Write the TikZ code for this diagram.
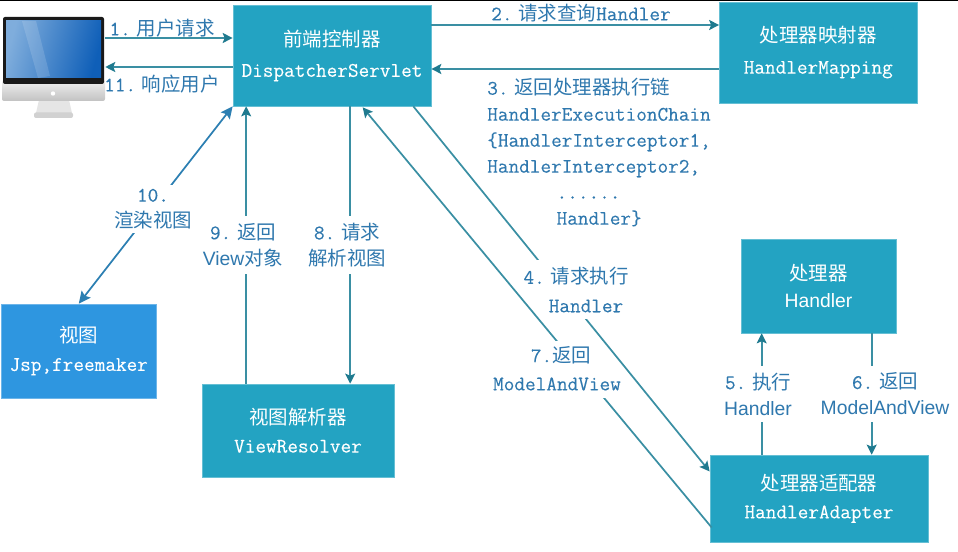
\documentclass[tikz,border=0pt]{standalone}
\usepackage{fontspec}
\setmainfont{Liberation Sans}
\setmonofont[FakeBold=0.2]{Latin Modern Mono}
\newfontfamily\cjk{Noto Sans CJK SC}
\usetikzlibrary{arrows.meta}
\usetikzlibrary{calc}
\definecolor{boxteal}{HTML}{23A3C2}
\definecolor{boxblue}{HTML}{2E96E0}
\definecolor{linkteal}{HTML}{3A8FA3}
\definecolor{tipteal}{HTML}{1F7A8F}
\definecolor{linkblue}{HTML}{2C7FB2}
\definecolor{labelblue}{HTML}{2F78AE}
\definecolor{screenl}{HTML}{7FADDC}
\definecolor{screenr}{HTML}{0F5FB8}
\newlength{\pxu}
\setlength{\pxu}{0.75pt}
\newcommand{\zh}[1]{{\fontsize{14.6}{19.5}\selectfont\cjk #1}}
\newcommand{\sn}[1]{{\fontsize{14.5}{19.5}\selectfont\rmfamily #1}}
\tikzset{
    boxt/.style={fill=boxteal, draw=boxteal!70!white, line width=0.5pt, text=white, inner sep=0pt, align=center,
        font=\fontsize{15.5}{20}\selectfont\ttfamily},
    boxv/.style={boxt, fill=boxblue, draw=boxblue!70!white},
    link/.style={draw=linkteal, line width=1.3pt, -{Stealth[length=7.5pt,width=7.5pt,inset=1.5pt,color=tipteal]}},
    linkb/.style={draw=linkblue, line width=1.3pt, {Stealth[length=9pt,width=8.5pt,inset=1.5pt]}-{Stealth[length=9pt,width=8.5pt,inset=1.5pt]}},
    lab/.style={text=labelblue, inner sep=0pt, align=center, font=\fontsize{15.5}{19.5}\selectfont\ttfamily},
    labw/.style={lab, fill=white},
}
\begin{document}
\begin{tikzpicture}[x=0.75pt, y=-0.75pt]

    \useasboundingbox (0,0) rectangle (958,552);
    \fill[black] (0,0) rectangle (958,1.2);

    % monitor
    \node[inner sep=0pt, minimum width=102\pxu, minimum height=101\pxu] (pc) at (54,67.5) {};
    \fill[black!10] (39,100) -- (69,100) -- (72,113) -- (36,113) -- cycle;
    \fill[black!18, rounded corners=1.5pt] (34,112.5) rectangle (73,118);
    \shade[top color=black!6, bottom color=black!24, rounded corners=1.5pt] (2,80) rectangle (105,101);
    \fill[black!90, rounded corners=1.5pt] (3,17) rectangle (104,84);
    \shade[left color=screenl, right color=screenr, shading angle=75] (6,21) rectangle (101,78);
    \fill[white, opacity=0.14] (22,21) -- (36,21) -- (50,76) -- (38,78) -- cycle;
    \fill[white] (53,93.5) circle (2.2);

    % boxes
    \node[boxt, minimum width=198\pxu, minimum height=101\pxu] (ds) at (332,55.5) {\zh{前端控制器}\\[3pt]DispatcherServlet};
    \node[boxt, minimum width=197.5\pxu, minimum height=101\pxu] (hm) at (818.25,52.5) {\zh{处理器映射器}\\[3pt]HandlerMapping};
    \node[boxt, minimum width=155\pxu, minimum height=94\pxu] (h) at (818.5,286) {\zh{处理器}\\\sn{Handler}};
    \node[boxt, minimum width=218\pxu, minimum height=87\pxu] (ha) at (819,498.5) {\zh{处理器适配器}\\[1pt]HandlerAdapter};
    \node[boxv, minimum width=154.5\pxu, minimum height=94\pxu] (v) at (78.75,351) {\zh{视图}\\[1pt]Jsp,freemaker};
    \node[boxt, minimum width=192\pxu, minimum height=93\pxu] (vr) at (298,430.5) {\zh{视图解析器}\\[1pt]ViewResolver};

    % connectors
    \draw[link] ($(pc.east)+(0,-29.5)$) -- ($(ds.west)+(0,-17.5)$);
    \draw[link] ($(ds.west)+(0,11.5)$) -- ($(pc.east)+(0,-0.5)$);
    \draw[link] ($(ds.east)+(0,-30.5)$) -- ($(hm.west)+(0,-27.5)$);
    \draw[link] ($(hm.west)+(0,16.5)$) -- ($(ds.east)+(0,13.5)$);
    \draw[link] ($(ds.south east)+(-18,0)$) -- ($(ha.west)+(0,-27)$);
    \draw[link] ($(ha.north west)+(52,0)$) -- ($(h.south west)+(21,0)$);
    \draw[link] ($(h.south west)+(131,0)$) -- ($(ha.north west)+(162,0)$);
    \draw[link] ($(ha.west)+(2,29)$) -- ($(ds.south west)+(130,1)$);
    \draw[link] ($(ds.south west)+(117.5,0)$) -- ($(vr.north west)+(148.5,0)$);
    \draw[link] ($(vr.north west)+(44.5,0)$) -- ($(ds.south west)+(13.5,0)$);
    \draw[linkb] (ds.south west) -- (v.north);

    % labels
    \node[lab] (l1) at (162,28) {1.\zh{ 用户请求}};
    \node[lab] (l11) at (162,84) {11.\zh{ 响应用户}};
    \node[lab] (l2) at (581,13) {2.\zh{ 请求查询}Handler};
    \node[lab, anchor=north west, align=left] (l3) at (487,78) {3.\zh{ 返回处理器执行链}\\HandlerExecutionChain\\\{HandlerInterceptor1,\\HandlerInterceptor2,\\\hspace*{52pt}......\\\hspace*{52pt}Handler\}};
    \node[labw, minimum width=100\pxu, minimum height=33\pxu] (l4a) at (576,276.5) {4.\zh{ 请求执行}};
    \node[labw, minimum width=74\pxu, minimum height=26\pxu] (l4b) at (586,306) {Handler};
    \node[labw, minimum width=58\pxu, minimum height=28\pxu] (l7a) at (561,355) {7.\zh{返回}};
    \node[labw, minimum width=132\pxu, minimum height=29\pxu] (l7b) at (557,384) {ModelAndView};
    \node[labw, minimum height=56\pxu] (l5) at (758,394) {5.\zh{ 执行}\\\sn{Handler}};
    \node[labw, minimum height=56\pxu] (l6) at (885,394) {6.\zh{ 返回}\\\sn{ModelAndView}};
    \node[labw, minimum height=58\pxu] (l8) at (347,245) {8.\zh{ 请求}\\\zh{解析视图}};
    \node[labw, minimum height=58\pxu] (l9) at (243,245) {9.\zh{ 返回}\\\sn{View}\zh{对象}};
    \node[labw, minimum height=48\pxu] (l10) at (153,209) {10.\\\zh{渲染视图}};

\end{tikzpicture}
\end{document}
